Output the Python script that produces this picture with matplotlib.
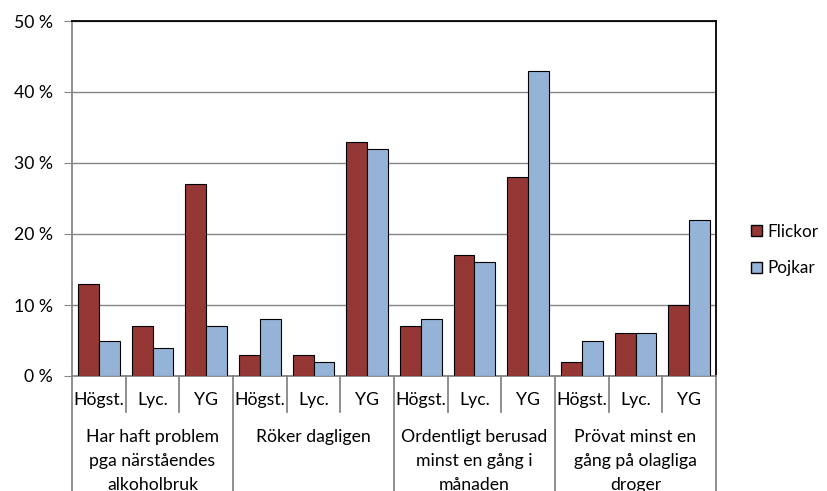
import numpy as np
import matplotlib
matplotlib.use("Agg")
import matplotlib.pyplot as plt
from matplotlib.patches import Patch

plt.rcParams['font.family'] = ['Lato', 'DejaVu Sans']

# data (percent)
groups = [["Har haft problem", "pga närståendes", "alkoholbruk"],
          ["Röker dagligen"],
          ["Ordentligt berusad", "minst en gång i", "månaden"],
          ["Prövat minst en", "gång på olagliga", "droger"]]
schools = ["Högst.", "Lyc.", "YG"]
flickor = [13, 7, 27, 3, 3, 33, 7, 17, 28, 2, 6, 10]
pojkar = [5, 4, 7, 8, 2, 32, 8, 16, 43, 5, 6, 22]

red = "#953735"
blue = "#95B3D7"
gray = "#868686"
fs = 12.7

fig = plt.figure(figsize=(8.27, 4.91), dpi=100)
ax = fig.add_axes([72/827, 1-376/491, (716-72)/827, 355/491])

x = np.arange(len(flickor))
w = 0.39
ax.bar(x - w/2, flickor, w, color=red, edgecolor="black", linewidth=0.8, zorder=3, label="Flickor")
ax.bar(x + w/2, pojkar, w, color=blue, edgecolor="black", linewidth=0.8, zorder=3, label="Pojkar")

ax.set_xlim(-0.5, len(x) - 0.5)
ax.set_ylim(0, 50)
ax.set_yticks(range(0, 51, 10))
ax.set_yticklabels([f"{v} %" for v in range(0, 51, 10)], fontsize=fs)
ax.yaxis.grid(True, color=gray, linewidth=1, zorder=0)
ax.tick_params(axis="y", length=6, color=gray, pad=8)
ax.set_xticks([])

for s in ["left", "bottom"]:
    ax.spines[s].set_color(gray)
    ax.spines[s].set_linewidth(1.3)
for s in ["top", "right"]:
    ax.spines[s].set_color("black")
    ax.spines[s].set_linewidth(1.3)

# multi-level category axis
tr = ax.get_xaxis_transform()
for i in range(len(x)):
    ax.text(i, -24/355, schools[i % 3], transform=tr, ha="center", va="center", fontsize=fs)
for b in np.arange(-0.5, len(x), 1.0):
    if round(b + 0.5) % 3 == 0:
        ax.plot([b, b], [0, -115/355], transform=tr, color=gray, lw=1.3, clip_on=False)
    else:
        ax.plot([b, b], [0, -36/355], transform=tr, color=gray, lw=1.3, clip_on=False)
for g, lines in enumerate(groups):
    for k, line in enumerate(lines):
        ax.text(3*g + 1, -(61 + 24*k)/355, line, transform=tr, ha="center", va="center", fontsize=fs)

handles = [Patch(facecolor=red, edgecolor="black", label="Flickor"),
           Patch(facecolor=blue, edgecolor="black", label="Pojkar")]
fig.legend(handles=handles, loc="center left", bbox_to_anchor=(751/827, 1-250/491),
           frameon=False, fontsize=12.3, handlelength=0.65, handleheight=0.65,
           handletextpad=0.3, labelspacing=1.2, borderpad=0, borderaxespad=0)

fig.savefig("out.png", dpi=100)
